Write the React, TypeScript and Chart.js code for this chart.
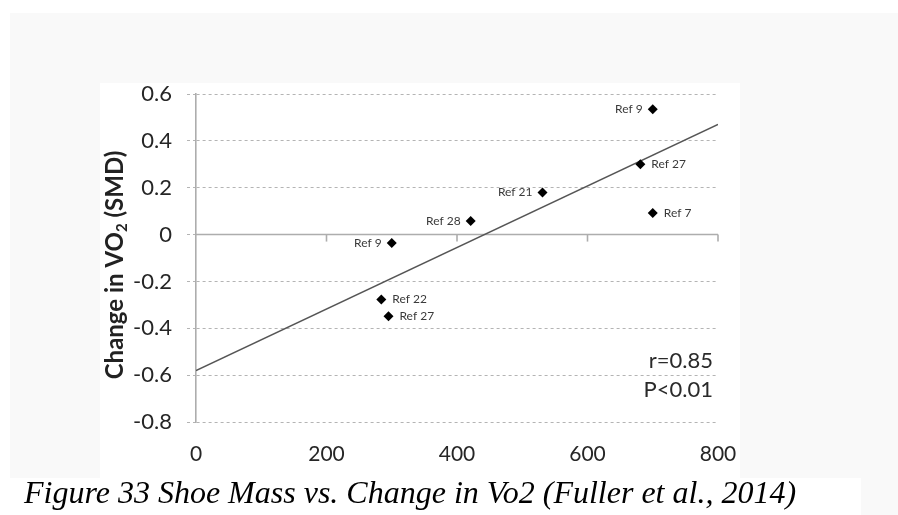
import React, { useEffect, useRef } from "react";
import { Chart, registerables } from "chart.js";

Chart.register(...registerables);

// ---- data ----
const shoeMass = [700, 681, 531, 700, 421, 300, 284, 295];
const vo2Change = [0.535, 0.3, 0.18, 0.092, 0.058, -0.036, -0.277, -0.349];
const refLabels = ["Ref 9", "Ref 27", "Ref 21", "Ref 7", "Ref 28", "Ref 9", "Ref 22", "Ref 27"];
const labelSide = ["left", "right", "left", "right", "left", "left", "right", "right"];
const trendX = [0, 800];
const trendY = [-0.58, 0.47];
const xMin = 0;
const xMax = 800;
const xStep = 200;
const yMin = -0.8;
const yMax = 0.6;
const yStep = 0.2;
const statLines = ["r=0.85", "P<0.01"];
const yTitleMain = "Change in VO";
const yTitleSub = "2";
const yTitleEnd = " (SMD)";
const caption = "Figure 33 Shoe Mass vs. Change in Vo2 (Fuller et al., 2014)";

const FONT = "Lato, 'Open Sans', sans-serif";

const overlayPlugin = {
  id: "overlay",
  beforeDatasetsDraw(chart: any) {
    const { ctx, chartArea, scales } = chart;
    const x = scales.x;
    const y = scales.y;
    const y0 = y.getPixelForValue(0);
    ctx.save();
    ctx.strokeStyle = "#adadad";
    ctx.lineWidth = 1.6;
    ctx.beginPath();
    ctx.moveTo(chartArea.left, y0);
    ctx.lineTo(chartArea.right, y0);
    ctx.stroke();
    for (let v = xMin + xStep; v <= xMax; v += xStep) {
      const px = x.getPixelForValue(v);
      ctx.beginPath();
      ctx.moveTo(px, y0);
      ctx.lineTo(px, y0 + 7);
      ctx.stroke();
    }
    ctx.restore();
  },
  afterDatasetsDraw(chart: any) {
    const { ctx, chartArea } = chart;
    const meta = chart.getDatasetMeta(0);
    ctx.save();
    ctx.fillStyle = "#3a3a3a";
    ctx.font = `12px ${FONT}`;
    ctx.textBaseline = "middle";
    meta.data.forEach((pt: any, i: number) => {
      if (labelSide[i] === "left") {
        ctx.textAlign = "right";
        ctx.fillText(refLabels[i], pt.x - 10, pt.y);
      } else {
        ctx.textAlign = "left";
        ctx.fillText(refLabels[i], pt.x + 11, pt.y);
      }
    });
    // stats text
    ctx.fillStyle = "#2a2a2a";
    ctx.font = `22px ${FONT}`;
    ctx.textAlign = "right";
    ctx.fillText(statLines[0], chartArea.right - 5, chartArea.bottom - 61);
    ctx.fillText(statLines[1], chartArea.right - 5, chartArea.bottom - 32);

    // y axis title with subscript
    ctx.save();
    ctx.translate(115, 265);
    ctx.rotate(-Math.PI / 2);
    ctx.fillStyle = "#222";
    const big = `bold 24px ${FONT}`;
    const small = `bold 15px ${FONT}`;
    ctx.font = big;
    const w1 = ctx.measureText(yTitleMain).width;
    const w3 = ctx.measureText(yTitleEnd).width;
    ctx.font = small;
    const w2 = ctx.measureText(yTitleSub).width;
    const total = w1 + w2 + w3;
    let cx = -total / 2;
    ctx.textAlign = "left";
    ctx.textBaseline = "middle";
    ctx.font = big;
    ctx.fillText(yTitleMain, cx, 0);
    cx += w1;
    ctx.font = small;
    ctx.fillText(yTitleSub, cx, 7);
    cx += w2;
    ctx.font = big;
    ctx.fillText(yTitleEnd, cx, 0);
    ctx.restore();

    // caption
    ctx.fillStyle = "#000";
    ctx.font = "italic 32px 'Liberation Serif', serif";
    ctx.textAlign = "left";
    ctx.textBaseline = "alphabetic";
    ctx.fillText(caption, 24, 503);
    ctx.restore();
  },
};

export default function App() {
  const ref = useRef<HTMLCanvasElement | null>(null);

  useEffect(() => {
    if (!ref.current) return;
    const chart = new Chart(ref.current, {
      type: "scatter",
      data: {
        datasets: [
          {
            label: "Studies",
            data: shoeMass.map((m, i) => ({ x: m, y: vo2Change[i] })),
            pointStyle: "rectRot",
            pointRadius: 5,
            backgroundColor: "#000",
            borderColor: "#000",
            borderWidth: 0,
            showLine: false,
          },
          {
            label: "Trend",
            data: trendX.map((m, i) => ({ x: m, y: trendY[i] })),
            showLine: true,
            borderColor: "#555",
            borderWidth: 1.5,
            pointRadius: 0,
            fill: false,
          },
        ],
      },
      options: {
        responsive: false,
        animation: false,
        layout: { padding: { left: 100, top: 94, right: 180, bottom: 48 } },
        plugins: { legend: { display: false }, tooltip: { enabled: false } },
        scales: {
          x: {
            type: "linear",
            min: xMin,
            max: xMax,
            ticks: {
              stepSize: xStep,
              color: "#262626",
              font: { family: FONT, size: 21 },
              padding: 20,
              maxRotation: 0,
            },
            grid: { display: false, drawTicks: false },
            border: { display: false },
            afterFit: (s: any) => {
              s.height = 45;
            },
          },
          y: {
            type: "linear",
            min: yMin,
            max: yMax,
            ticks: {
              stepSize: yStep,
              color: "#262626",
              font: { family: FONT, size: 22 },
              padding: 15,
              callback: (v: any) => String(Math.round(Number(v) * 10) / 10),
            },
            grid: {
              color: "#b4b4b4",
              lineWidth: 1,
              tickLength: 9,
              tickBorderDash: [3, 3],
            },
            border: { display: true, color: "#adadad", width: 1.6, dash: [3, 3] },
            afterFit: (s: any) => {
              s.width = 96;
            },
          },
        },
      },
      plugins: [overlayPlugin],
    });
    return () => chart.destroy();
  }, []);

  return (
    <div style={{ position: "fixed", left: 0, top: 0, width: 898, height: 515, background: "#fff", overflow: "hidden" }}>
      <div style={{ position: "absolute", left: 10, top: 13, width: 888, height: 502, background: "#f9f9f9" }} />
      <div style={{ position: "absolute", left: 100, top: 83, width: 640, height: 395, background: "#fff" }} />
      <div style={{ position: "absolute", left: 0, top: 478, width: 861, height: 37, background: "#fff" }} />
      <canvas ref={ref} width={898} height={515} style={{ position: "absolute", left: 0, top: 0, width: 898, height: 515 }} />
    </div>
  );
}
